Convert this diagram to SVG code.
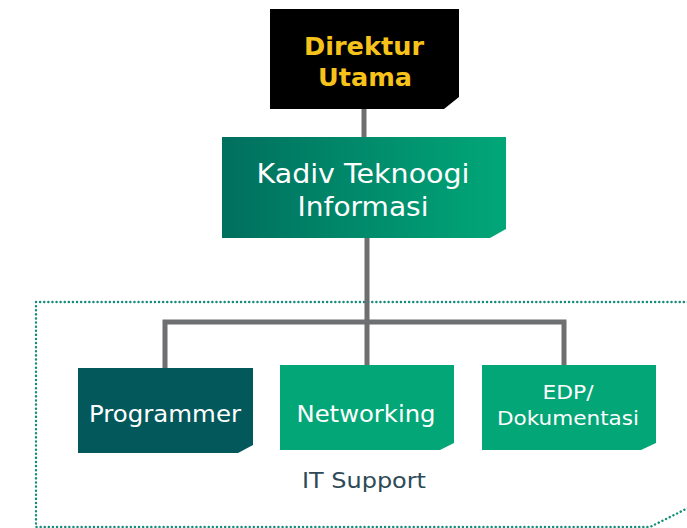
<svg xmlns="http://www.w3.org/2000/svg" width="687" height="528" viewBox="0 0 687 528">
<style>
.t{font-family:"DejaVu Sans","Liberation Sans",sans-serif;text-anchor:middle;fill:#fff}
.y{fill:#f7c31a;font-weight:bold}
.conn{stroke:#6e6f71;stroke-width:5;fill:none}
</style>
<defs>
<linearGradient id="g" x1="0" y1="0" x2="1" y2="0">
<stop offset="0" stop-color="#006f5e"/>
<stop offset="1" stop-color="#01a778"/>
</linearGradient>
</defs>
<rect width="687" height="528" fill="#fff"/>
<path d="M36,302 H690 M36,302 V527 H650 L690,507" fill="none" stroke="#138c7c" stroke-width="2.4" stroke-dasharray="0.1 4" stroke-linecap="round"/>
<g id="connectors">
<line class="conn" x1="364" y1="108" x2="364" y2="138"/>
<line class="conn" x1="367" y1="237" x2="367" y2="366"/>
<polyline class="conn" points="165,368 165,322 564,322 564,366"/>
</g>
<g id="direktur">
<path d="M270,9 H459 V97 L444,109 H270 Z" fill="#000"/>
<text class="t y" x="364" y="55" font-size="25" textLength="120" lengthAdjust="spacingAndGlyphs">Direktur</text>
<text class="t y" x="365" y="86" font-size="25" textLength="94" lengthAdjust="spacingAndGlyphs">Utama</text>
</g>
<g id="kadiv">
<path d="M222,137 H506 V229 L490,238 H222 Z" fill="url(#g)"/>
<text class="t" x="363" y="183" font-size="26" textLength="213" lengthAdjust="spacingAndGlyphs">Kadiv Teknoogi</text>
<text class="t" x="363" y="216" font-size="26" textLength="131" lengthAdjust="spacingAndGlyphs">Informasi</text>
</g>
<g id="programmer">
<path d="M78,368 H253 V445 L238,453 H78 Z" fill="#02585a"/>
<text class="t" x="165" y="422" font-size="23" textLength="152" lengthAdjust="spacingAndGlyphs">Programmer</text>
</g>
<g id="networking">
<path d="M280,365 H454 V443 L440,450 H280 Z" fill="#03a677"/>
<text class="t" x="366" y="422" font-size="23" textLength="139" lengthAdjust="spacingAndGlyphs">Networking</text>
</g>
<g id="edp">
<path d="M482,365 H656 V443 L641,450 H482 Z" fill="#03a677"/>
<text class="t" x="568" y="399" font-size="20" textLength="51" lengthAdjust="spacingAndGlyphs">EDP/</text>
<text class="t" x="568" y="425" font-size="20" textLength="142" lengthAdjust="spacingAndGlyphs">Dokumentasi</text>
</g>
<text x="364" y="488" font-family="DejaVu Sans, Liberation Sans, sans-serif" font-size="21" text-anchor="middle" fill="#2e4a56" textLength="124" lengthAdjust="spacingAndGlyphs">IT Support</text>
</svg>
